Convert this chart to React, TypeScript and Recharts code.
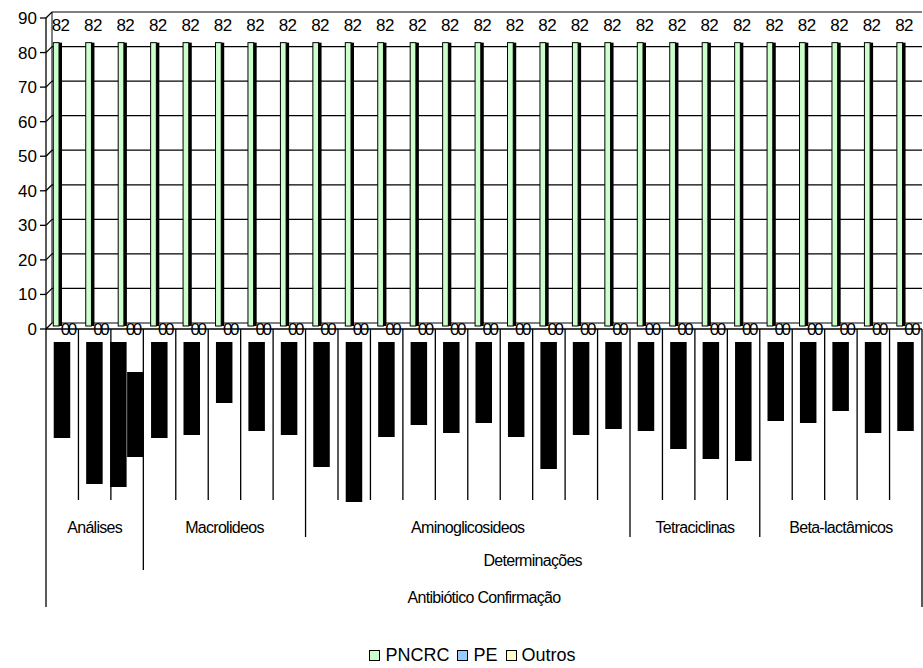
import { BarChart, Bar, XAxis, YAxis, CartesianGrid, LabelList } from "recharts";

const categories = [
  "1", "2", "3", "4", "5", "6", "7", "8", "9", "10", "11", "12", "13", "14",
  "15", "16", "17", "18", "19", "20", "21", "22", "23", "24", "25", "26", "27",
];
const pncrc = [82, 82, 82, 82, 82, 82, 82, 82, 82, 82, 82, 82, 82, 82, 82, 82, 82, 82, 82, 82, 82, 82, 82, 82, 82, 82, 82];
const pe = [0, 0, 0, 0, 0, 0, 0, 0, 0, 0, 0, 0, 0, 0, 0, 0, 0, 0, 0, 0, 0, 0, 0, 0, 0, 0, 0];
const outros = [0, 0, 0, 0, 0, 0, 0, 0, 0, 0, 0, 0, 0, 0, 0, 0, 0, 0, 0, 0, 0, 0, 0, 0, 0, 0, 0];
const yTicks = [0, 10, 20, 30, 40, 50, 60, 70, 80, 90];

// the category names come out as solid black blocks in the original, one column per text line
const labelColumns: number[][] = [
  [96], [142], [145, 85], [96], [93], [61], [89], [93], [125], [160], [95], [83], [91], [81],
  [95], [127], [93], [87], [89], [107], [117], [119], [79], [81], [69], [91], [89],
];

const level2 = [
  { name: "Análises", count: 3 },
  { name: "Macrolideos", count: 5 },
  { name: "Aminoglicosideos", count: 10 },
  { name: "Tetraciclinas", count: 4 },
  { name: "Beta-lactâmicos", count: 5 },
];
const level3 = [
  { name: "", count: 3 },
  { name: "Determinações", count: 24 },
];
const level4 = [{ name: "Antibiótico Confirmação", count: 27 }];

const series = [
  { key: "PNCRC", values: pncrc, color: "#CCFFCC" },
  { key: "PE", values: pe, color: "#99CCFF" },
  { key: "Outros", values: outros, color: "#FFFFCC" },
];

const data = categories.map((name, i) => ({
  name,
  PNCRC: pncrc[i],
  PE: pe[i],
  Outros: outros[i],
}));

const FONT = "'Liberation Sans', Arial, sans-serif";
const W = 923;
const H = 625;
const PLOT_LEFT = 46;
const PLOT_RIGHT = 922;
const PLOT_TOP = 18;
const PLOT_BOTTOM = 329;
const BAND = (PLOT_RIGHT - PLOT_LEFT) / categories.length;
const DEPTH = 6;

const withStarts = (groups: { name: string; count: number }[]) => {
  let s = 0;
  return groups.map((g) => {
    const r = { ...g, start: s };
    s += g.count;
    return r;
  });
};
const g2 = withStarts(level2);
const g3 = withStarts(level3);
const g4 = withStarts(level4);

const textStyle = { fontFamily: FONT, fontSize: 16, letterSpacing: -0.7 };

const CategoryTick = (props: any) => {
  const { x, index } = props;
  const left = x - BAND / 2;
  let lineEnd = 500;
  if (g2.some((g) => g.start === index)) lineEnd = 537;
  if (g3.some((g) => g.start === index)) lineEnd = 570;
  if (g4.some((g) => g.start === index)) lineEnd = 607;

  const cols = labelColumns[index] || [];
  const colW = 17;
  const maxLen = Math.max(...cols, 0);
  const colStart = x - (cols.length * colW) / 2;

  const labels: any[] = [];
  const addLabel = (groups: any[], y: number) => {
    groups.forEach((g) => {
      if (g.start === index && g.name) {
        labels.push(
          <text key={g.name} x={left + (g.count * BAND) / 2} y={y} textAnchor="middle" fill="#000" style={textStyle}>
            {g.name}
          </text>
        );
      }
    });
  };
  addLabel(g2, 533);
  addLabel(g3, 566);
  addLabel(g4, 603);

  return (
    <g>
      <line x1={left} y1={PLOT_BOTTOM} x2={left} y2={lineEnd} stroke="#000" strokeWidth={1.3} />
      {index === categories.length - 1 && (
        <line x1={x + BAND / 2} y1={PLOT_BOTTOM} x2={x + BAND / 2} y2={607} stroke="#000" strokeWidth={1.3} />
      )}
      {cols.map((len, c) => (
        <rect key={c} x={colStart + c * colW} y={342 + (maxLen - len) / 2} width={colW - 0.5} height={len} fill="#000" />
      ))}
      {labels}
    </g>
  );
};

const gridLine = (p: any) => {
  const { x1, y1, x2 } = p;
  const edge = y1 <= PLOT_TOP + 1 || y1 >= PLOT_BOTTOM - 1;
  return (
    <g key={p.key}>
      <line x1={x1} y1={y1} x2={x1 + DEPTH} y2={y1 - DEPTH} stroke="#000" strokeWidth={1.2} />
      <line x1={x1 + DEPTH} y1={y1 - DEPTH} x2={x2} y2={y1 - DEPTH} stroke={edge ? "#808080" : "#000"} strokeWidth={edge ? 2 : 1.3} />
      {y1 <= PLOT_TOP + 1 && (
        <line x1={x1 + DEPTH} y1={y1 - DEPTH} x2={x1 + DEPTH} y2={PLOT_BOTTOM - DEPTH} stroke="#000" strokeWidth={1} />
      )}
    </g>
  );
};

const Column3D = (props: any) => {
  const { x, y, width, height, fill } = props;
  if (!height) return null;
  return (
    <g>
      <rect x={x + 1.3} y={y - 3} width={width - 1.3} height={height} fill={fill} stroke="#000" strokeWidth={1} />
      <rect x={x + width} y={y - 3} width={3} height={height} fill="#000" />
    </g>
  );
};

const TopLabel = (props: any) => {
  const { x, y, value } = props;
  return (
    <text x={x + 8.5} y={y - 14.6} textAnchor="middle" fill="#000" style={{ fontFamily: FONT, fontSize: 17, letterSpacing: -0.6 }}>
      {value}
    </text>
  );
};

const ZeroLabel = (props: any) => {
  const { x, y, width, value } = props;
  return (
    <text x={x + width / 2 + 3} y={y + 6} textAnchor="middle" fill="#000" style={{ fontFamily: FONT, fontSize: 17 }}>
      {value}
    </text>
  );
};

export default function App() {
  return (
    <div style={{ position: "absolute", left: 0, top: 0, width: W, height: 668, background: "#fff" }}>
      <BarChart
        width={W}
        height={H}
        data={data}
        margin={{ top: PLOT_TOP, right: W - PLOT_RIGHT, left: 0, bottom: 0 }}
        barGap={0}
        barSize={7}
      >
        <CartesianGrid vertical={false} horizontal={gridLine} />
        <YAxis
          domain={[0, 90]}
          ticks={yTicks}
          width={PLOT_LEFT}
          axisLine={{ stroke: "#000", strokeWidth: 1.3 }}
          tickLine={{ stroke: "#000", strokeWidth: 1.3 }}
          tickSize={6}
          tickMargin={3}
          tick={{ fill: "#000", fontSize: 17, fontFamily: FONT }}
        />
        <XAxis
          dataKey="name"
          interval={0}
          height={H - PLOT_BOTTOM}
          tickLine={false}
          axisLine={{ stroke: "#000", strokeWidth: 1.3 }}
          tick={<CategoryTick />}
        />
        <Bar dataKey="PNCRC" fill="#CCFFCC" shape={<Column3D />} isAnimationActive={false}>
          <LabelList dataKey="PNCRC" content={<TopLabel />} />
        </Bar>
        <Bar dataKey="PE" fill="#99CCFF" shape={<Column3D />} isAnimationActive={false}>
          <LabelList dataKey="PE" content={<ZeroLabel />} />
        </Bar>
        <Bar dataKey="Outros" fill="#FFFFCC" shape={<Column3D />} isAnimationActive={false}>
          <LabelList dataKey="Outros" content={<ZeroLabel />} />
        </Bar>
      </BarChart>
      <div
        style={{
          position: "absolute",
          top: 645,
          left: 15,
          width: W,
          display: "flex",
          justifyContent: "center",
          alignItems: "center",
          fontFamily: FONT,
          fontSize: 18,
          lineHeight: "20px",
          color: "#000",
        }}
      >
        {series.map((s) => (
          <div key={s.key} style={{ display: "flex", alignItems: "center", marginRight: 8 }}>
            <span style={{ display: "inline-block", width: 9, height: 9, border: "1.5px solid #000", background: s.color, marginRight: 5 }} />
            <span>{s.key}</span>
          </div>
        ))}
      </div>
    </div>
  );
}
